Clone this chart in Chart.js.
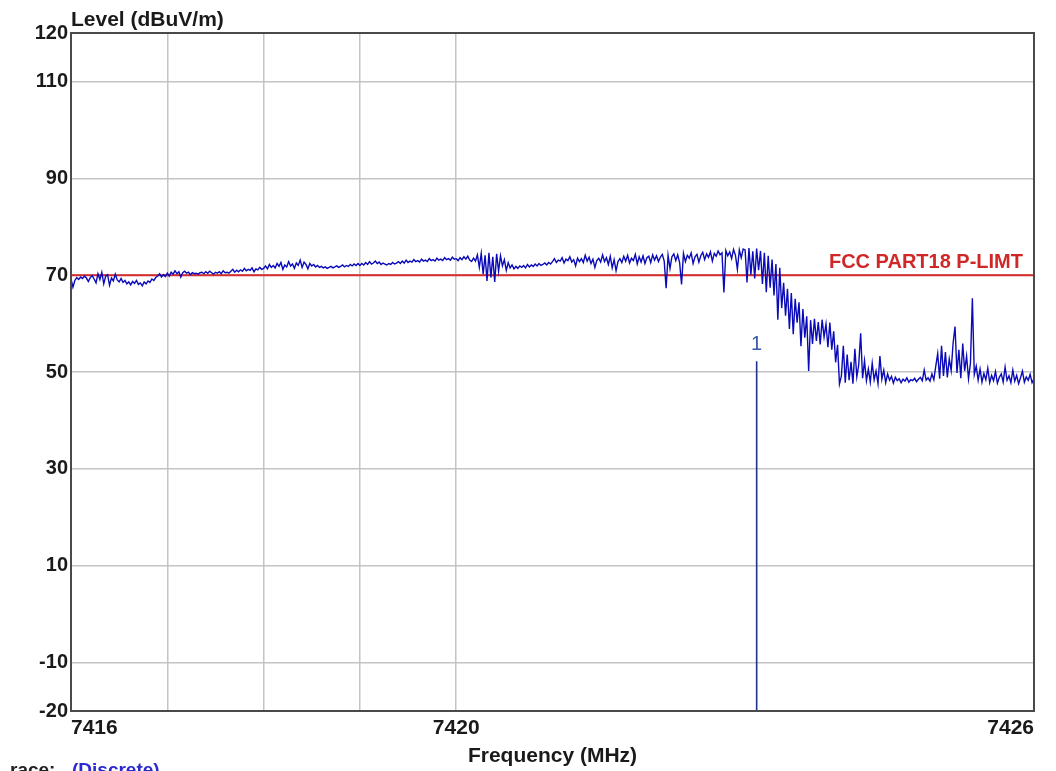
<!DOCTYPE html>
<html>
<head>
<meta charset="UTF-8">
<title>Level vs Frequency</title>
<script src="https://cdn.jsdelivr.net/npm/chart.js@4.4.1/dist/chart.umd.min.js"></script>
<style>
  body { margin: 0; background: #fff; }
</style>
</head>
<body>
<canvas id="scan" width="1056" height="771"></canvas>
<script>
// sweep: 7416 -> 7426 MHz, one reading every 0.02 MHz
const freqStart = 7416;
const freqStep = 0.02;
const levels = [
  // 7416
  69.2, 67.5, 68.9, 69.5, 69.1, 69.6, 69.3, 69.8, 69.4, 68.7,
  69.5, 69.9, 69.2, 68.4, 70.3, 69.1, 70.6, 68.2, 69.8, 70.1,
  67.9, 69.4, 68.8, 70.2, 69.0, 68.6, 69.3, 68.5, 68.9, 68.2,
  68.6, 68.0, 68.7, 68.3, 68.9, 68.1, 68.4, 67.8, 68.6, 68.2,
  68.8, 68.5, 69.2, 68.9, 69.5, 69.8, 70.3, 69.6, 70.1, 69.7,
  // 7417
  70.4, 69.8, 70.6, 70.2, 70.9, 70.3, 70.7, 69.6, 70.5, 70.8,
  70.4, 70.6, 70.1, 70.5, 70.3, 70.4, 70.2, 70.5, 70.6, 70.3,
  70.7, 70.4, 70.8, 70.5, 70.2, 70.6, 70.4, 70.7, 70.3, 70.9,
  70.5, 70.6, 70.4, 70.8, 71.2, 70.6, 71.0, 70.7, 71.1, 70.8,
  71.4, 70.9, 71.2, 71.0, 71.5, 70.7, 71.3, 71.1, 71.6, 71.2,
  // 7418
  71.4, 71.9, 71.3, 72.2, 71.6, 72.0, 71.5, 72.4, 71.8, 72.6,
  71.2, 72.1, 71.7, 72.8, 71.9, 72.3, 71.4, 72.5, 72.0, 73.1,
  71.6, 72.7, 72.2, 71.3, 72.4, 71.9, 72.2, 71.7, 72.0, 71.6,
  71.8, 71.5, 71.7, 71.4, 71.6, 71.8, 71.5, 71.7, 71.9, 71.6,
  71.8, 72.1, 71.7, 72.0, 71.8, 72.2, 71.9, 72.3, 72.0, 72.4,
  // 7419
  72.0, 72.4, 72.1, 72.6, 72.2, 72.8, 72.3, 72.5, 72.9, 72.4,
  72.7, 72.2, 72.5, 72.3, 72.1, 72.4, 72.2, 72.6, 72.3, 72.5,
  72.8, 72.4, 72.9, 72.5, 73.1, 72.6, 72.9, 72.7, 73.2, 72.8,
  73.0, 72.7, 73.3, 72.9, 73.1, 72.8, 73.4, 73.0, 73.2, 72.9,
  73.5, 73.1, 73.3, 73.0, 73.6, 73.2, 73.4, 73.1, 73.7, 73.3,
  // 7420
  73.4, 73.0, 73.6, 73.2, 73.8, 73.3, 73.9, 73.1, 72.8, 73.5,
  72.9, 74.2, 71.6, 74.5, 70.2, 74.1, 68.8, 74.6, 69.5, 73.8,
  68.6, 74.4, 70.8, 74.0, 71.9, 73.2, 71.0, 72.6, 71.5, 72.1,
  71.3, 71.8, 71.4, 71.9, 71.6, 72.0, 71.5, 72.2, 71.7, 72.1,
  71.8, 72.3, 71.9, 72.4, 72.0, 72.2, 72.5, 72.1, 72.6, 72.3,
  // 7421
  72.8, 73.4, 72.6, 73.1, 72.9, 73.6, 72.5, 73.3, 73.0, 73.8,
  72.7, 73.2, 71.9, 73.5, 72.8, 73.4, 72.6, 74.1, 72.9, 73.7,
  72.4, 73.3, 71.6, 73.0, 73.5, 72.7, 74.2, 72.8, 73.6, 72.2,
  73.9, 71.5, 73.2, 70.9, 72.8, 73.4, 72.6, 73.9, 72.9, 74.1,
  72.5, 73.5, 73.0, 74.3, 72.3, 73.8, 72.7, 74.0, 72.4, 73.6,
  // 7422
  73.9, 72.6, 74.2, 73.1, 74.0, 72.8, 73.7, 74.3, 72.9, 67.3,
  74.1, 71.4, 73.8, 74.4, 73.0, 74.2, 72.6, 68.1, 74.5, 72.8,
  74.1, 73.5, 74.6, 72.4, 73.8, 74.3, 72.7, 74.0, 74.7, 73.2,
  74.4, 73.7, 74.8, 72.9, 74.5, 73.9, 75.0, 74.2, 74.6, 66.4,
  75.1, 74.0, 74.8, 73.4, 75.3, 74.1, 71.2, 75.2, 73.6, 75.4,
  // 7423
  75.2, 68.5, 75.6, 70.1, 74.9, 69.3, 75.5, 71.0, 75.0, 68.2,
  74.6, 66.5, 74.0, 67.4, 73.2, 65.8, 72.3, 60.8, 71.5, 63.2,
  68.4, 61.6, 67.2, 58.9, 66.3, 57.8, 65.1, 60.2, 64.4, 55.3,
  63.0, 57.1, 61.5, 50.2, 60.7, 55.8, 61.0, 56.4, 60.3, 55.7,
  60.8, 57.2, 59.9, 55.1, 60.2, 54.6, 58.4, 52.0, 55.6, 47.5,
  // 7424
  49.2, 55.4, 47.8, 53.6, 48.3, 52.1, 47.6, 54.8, 49.0, 51.5,
  58.0, 48.7, 52.3, 48.2, 50.6, 47.9, 51.8, 48.4, 50.2, 47.6,
  53.3, 48.5, 50.4, 47.8, 49.6, 48.3, 49.1, 47.7, 48.9, 48.2,
  48.6, 47.8, 48.5, 48.1, 48.8, 47.9, 48.4, 48.2, 48.7, 48.0,
  48.5, 48.9, 48.2, 50.4, 48.3, 48.8, 48.1, 49.6, 48.4, 51.2,
  // 7425
  53.8, 48.6, 55.4, 49.2, 54.1, 48.9, 52.7, 50.3, 56.0, 59.4,
  49.8, 54.6, 48.7, 55.9, 50.2, 53.3, 48.6, 51.8, 65.2, 49.5,
  51.2, 48.3, 50.6, 47.9, 49.7, 48.4, 50.8, 47.8, 49.3, 48.2,
  50.1, 47.7, 48.9, 49.6, 47.9, 51.0, 48.3, 49.2, 47.8, 50.4,
  48.1, 49.3, 47.6, 48.8, 50.2, 47.9, 49.0, 48.3, 49.5, 47.8,
  // 7426
  48.6
];

const limitName = 'FCC PART18 P-LIMT';
const limitLevel = 70;

const markerId = '1';
const markerFreq = 7423.12;
const markerLevel = 52.2;

const yTicks = [-20, -10, 10, 30, 50, 70, 90, 110, 120];
const xTicks = [7416, 7417, 7418, 7419, 7420, 7421, 7422, 7423, 7424, 7425, 7426];
const xLabelled = [7416, 7420, 7426];
const xGridded = [7417, 7418, 7419, 7420];

const font = '"Liberation Sans", Arial, sans-serif';

const trace = levels.map((v, i) => ({ x: +(freqStart + i * freqStep).toFixed(2), y: v }));

const extras = {
  id: 'extras',
  afterDatasetsDraw(chart) {
    const { ctx, chartArea: a, scales: { x, y } } = chart;
    ctx.save();
    // frame round the plot
    ctx.strokeStyle = '#4a4a4a';
    ctx.lineWidth = 2;
    ctx.strokeRect(a.left, a.top, a.right - a.left, a.bottom - a.top);

    // limit line name
    ctx.fillStyle = '#d02828';
    ctx.font = 'bold 20px ' + font;
    ctx.textAlign = 'right';
    ctx.textBaseline = 'alphabetic';
    ctx.fillText(limitName, a.right - 11, y.getPixelForValue(limitLevel) - 7);

    // marker number
    ctx.fillStyle = '#3a58a8';
    ctx.font = '20px ' + font;
    ctx.textAlign = 'center';
    ctx.textBaseline = 'middle';
    ctx.fillText(markerId, x.getPixelForValue(markerFreq), y.getPixelForValue(markerLevel) - 17);
    ctx.restore();
  },
  afterDraw(chart) {
    const { ctx, chartArea: a } = chart;
    ctx.save();
    ctx.fillStyle = '#1a1a1a';
    ctx.font = 'bold 21px ' + font;
    ctx.textAlign = 'left';
    ctx.textBaseline = 'alphabetic';
    ctx.fillText('Level (dBuV/m)', a.left, 26);

    // trace caption, cut at the left and bottom edge like the print
    ctx.font = 'bold 19px ' + font;
    ctx.fillStyle = '#222';
    ctx.fillText('race:', 10, 776);
    ctx.fillStyle = '#2a2ad0';
    ctx.fillText('(Discrete)', 72, 776);
    ctx.restore();
  }
};

new Chart(document.getElementById('scan'), {
  type: 'line',
  data: {
    datasets: [
      {
        label: 'Level',
        data: trace,
        borderColor: '#0a0ab8',
        borderWidth: 1.4,
        pointRadius: 0,
        tension: 0
      },
      {
        label: limitName,
        data: [{ x: xTicks[0], y: limitLevel }, { x: xTicks[xTicks.length - 1], y: limitLevel }],
        borderColor: '#d82c2c',
        borderWidth: 2,
        pointRadius: 0
      },
      {
        label: 'Marker ' + markerId,
        data: [{ x: markerFreq, y: yTicks[0] }, { x: markerFreq, y: markerLevel }],
        borderColor: '#1c3490',
        borderWidth: 1.6,
        pointRadius: 0
      }
    ]
  },
  options: {
    responsive: false,
    animation: false,
    layout: { padding: { left: 0, right: 22, top: 33, bottom: 0 } },
    plugins: {
      legend: { display: false },
      tooltip: { enabled: false }
    },
    scales: {
      x: {
        type: 'linear',
        min: xTicks[0],
        max: xTicks[xTicks.length - 1],
        afterBuildTicks: s => { s.ticks = xTicks.map(v => ({ value: v })); },
        afterFit: s => { s.height = 60; },
        border: { display: false },
        grid: {
          drawTicks: false,
          lineWidth: 1.5,
          color: c => xGridded.includes(c.tick && c.tick.value) ? '#c4c4c4' : 'rgba(0,0,0,0)'
        },
        ticks: {
          autoSkip: false,
          maxRotation: 0,
          align: 'inner',
          padding: 5,
          color: '#1a1a1a',
          font: { family: font, size: 21, weight: 'bold' },
          callback: v => xLabelled.includes(v) ? String(v) : ''
        },
        title: {
          display: true,
          text: 'Frequency (MHz)',
          color: '#1a1a1a',
          font: { family: font, size: 21, weight: 'bold' },
          padding: { top: 0, bottom: 2 }
        }
      },
      y: {
        min: yTicks[0],
        max: yTicks[yTicks.length - 1],
        afterBuildTicks: s => { s.ticks = yTicks.map(v => ({ value: v })); },
        afterFit: s => { s.width = 71; },
        border: { display: false },
        grid: {
          drawTicks: false,
          lineWidth: 1.5,
          color: '#c4c4c4'
        },
        ticks: {
          padding: 3,
          color: '#1a1a1a',
          font: { family: font, size: 20, weight: 'bold' }
        }
      }
    }
  },
  plugins: [extras]
});
</script>
</body>
</html>
